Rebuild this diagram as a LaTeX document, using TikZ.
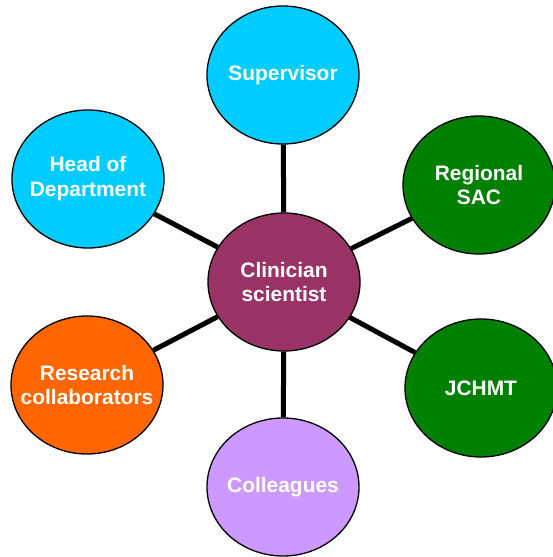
\documentclass[tikz,border=0pt]{standalone}
\usepackage{fontspec}
\setmainfont{Liberation Sans}
\usetikzlibrary{shapes.geometric}
\definecolor{skyb}{HTML}{00CCFF}
\definecolor{plum}{HTML}{993366}
\definecolor{leaf}{HTML}{008000}
\definecolor{pumpkin}{HTML}{FF6600}
\definecolor{lilac}{HTML}{CC99FF}
\tikzset{
  role/.style={ellipse, draw=black, line width=1.3bp, minimum width=152bp, minimum height=138bp,
    inner ysep=0pt, inner xsep=-30bp, align=center, text=white, font=\bfseries\fontsize{21}{25}\selectfont},
  link/.style={line width=5bp}
}
\begin{document}
\begin{tikzpicture}[x=1bp,y=-1bp]
    \useasboundingbox (0,0) rectangle (553,557);
    \node[role, fill=plum] (clin) at (284,282) {Clinician\\scientist};
    \node[role, fill=skyb] (sup) at (283,75) {Supervisor};
    \node[role, fill=skyb] (head) at (88,179) {Head of\\Department};
    \node[role, fill=leaf] (sac) at (479,185) {Regional\\SAC};
    \node[role, fill=pumpkin] (coll) at (87,385) {Research\\collaborators};
    \node[role, fill=leaf] (jchmt) at (481,388) {JCHMT};
    \node[role, fill=lilac] (colg) at (283,487) {Colleagues};
    \draw[link] (clin) -- (sup);
    \draw[link] (clin) -- (head);
    \draw[link] (clin) -- (sac);
    \draw[link] (clin) -- (coll);
    \draw[link] (clin) -- (jchmt);
    \draw[link] (clin) -- (colg);
\end{tikzpicture}
\end{document}
